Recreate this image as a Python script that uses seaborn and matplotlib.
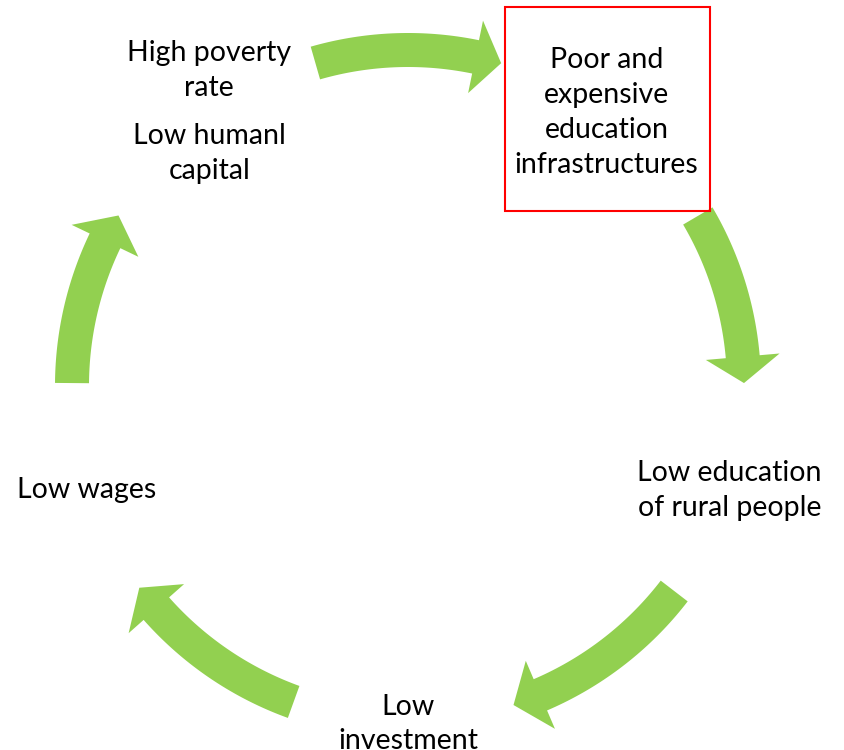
import numpy as np
import seaborn as sns
import matplotlib.pyplot as plt
from matplotlib.patches import Rectangle

# cycle nodes (clockwise, starting with the highlighted one)
node_labels = [
    "Poor and\nexpensive\neducation\ninfrastructures",
    "Low education\nof rural people",
    "Low\ninvestment",
    "Low wages",
    "High poverty\nrate",
]
extra_label = "Low humanl\ncapital"
highlighted = 0

# arrow angles in degrees: tail, start of head, tip
arrow_tail = [106, 30.4, -37.6, -109.9, 179.5]
arrow_base = [78.4, 5.0, -66.8, -138.5, 154.4]
arrow_tip = [73.9, 0.5, -71.7, -143.1, 149.5]

W, H = 844, 750
cx, cy, r = 408, 386, 336
shaft_w, head_w = 17, 37
green = "#92D050"

sns.set_theme(style="white")
plt.rcParams['font.family'] = ['Lato', 'DejaVu Sans']

fig = plt.figure(figsize=(W / 100, H / 100), dpi=100)
ax = fig.add_axes([0, 0, 1, 1])
ax.set_xlim(0, W)
ax.set_ylim(H, 0)
ax.set_axis_off()


def pt(ang, rad):
    a = np.radians(ang)
    return cx + rad * np.cos(a), cy - rad * np.sin(a)


for t0, tb, tt in zip(arrow_tail, arrow_base, arrow_tip):
    angs = np.linspace(t0, tb, 40)
    outer = [pt(a, r + shaft_w) for a in angs]
    inner = [pt(a, r - shaft_w) for a in angs[::-1]]
    head = [pt(tb, r + head_w), pt(tt, r), pt(tb, r - head_w)]
    poly = np.array(outer + head + inner)
    ax.fill(poly[:, 0], poly[:, 1], color=green, lw=0, zorder=2)

fs = 20.5
ls = 1.42
node_r = 338
txt = dict(ha="center", va="center", fontsize=fs, linespacing=ls, color="black")
for i, lab in enumerate(node_labels):
    ang = 54 - 72 * i
    x, y = pt(ang, node_r)
    if i == len(node_labels) - 1:
        ax.text(x, y - 42, lab, **txt)
        ax.text(x, y + 41, extra_label, **txt)
    else:
        ax.text(x, y, lab, **txt)
    if i == highlighted:
        ax.add_patch(Rectangle((505, 7), 205, 204, fill=False, ec="#FF0000", lw=1.5, zorder=3))

fig.savefig("out.png", dpi=100)
